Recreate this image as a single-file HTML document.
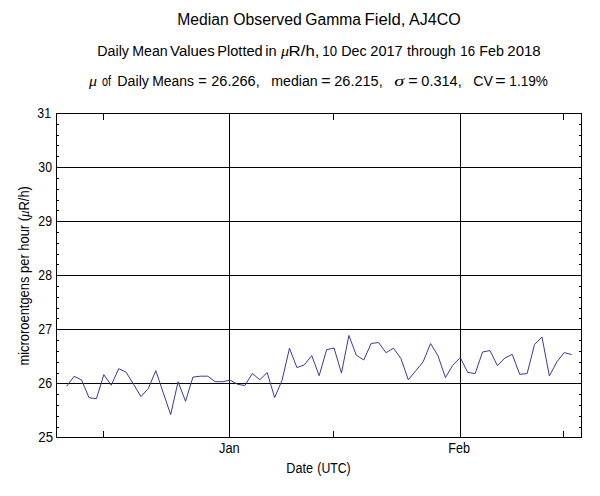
<!DOCTYPE html>
<html><head><meta charset="utf-8"><style>
html,body{margin:0;padding:0;background:#fff;}
svg{display:block;font-family:"Liberation Sans", sans-serif;}
</style></head><body>
<svg width="600" height="496" viewBox="0 0 600 496">
<rect x="0" y="0" width="600" height="496" fill="#fff"/>
<g fill="#000" shape-rendering="crispEdges"><rect x="56" y="113" width="526" height="1"/><rect x="56" y="437" width="526" height="1"/><rect x="56" y="113" width="1" height="325"/><rect x="581" y="113" width="1" height="325"/><rect x="56" y="167" width="526" height="1"/><rect x="56" y="221" width="526" height="1"/><rect x="56" y="275" width="526" height="1"/><rect x="56" y="329" width="526" height="1"/><rect x="56" y="383" width="526" height="1"/><rect x="229" y="113" width="1" height="325"/><rect x="460" y="113" width="1" height="325"/><rect x="103" y="114" width="1" height="6"/><rect x="103" y="431" width="1" height="6"/><rect x="333" y="114" width="1" height="6"/><rect x="333" y="431" width="1" height="6"/><rect x="563" y="114" width="1" height="6"/><rect x="563" y="431" width="1" height="6"/><rect x="57" y="124" width="2" height="1"/><rect x="579" y="124" width="2" height="1"/><rect x="57" y="135" width="2" height="1"/><rect x="579" y="135" width="2" height="1"/><rect x="57" y="145" width="2" height="1"/><rect x="579" y="145" width="2" height="1"/><rect x="57" y="156" width="2" height="1"/><rect x="579" y="156" width="2" height="1"/><rect x="57" y="178" width="2" height="1"/><rect x="579" y="178" width="2" height="1"/><rect x="57" y="189" width="2" height="1"/><rect x="579" y="189" width="2" height="1"/><rect x="57" y="200" width="2" height="1"/><rect x="579" y="200" width="2" height="1"/><rect x="57" y="210" width="2" height="1"/><rect x="579" y="210" width="2" height="1"/><rect x="57" y="232" width="2" height="1"/><rect x="579" y="232" width="2" height="1"/><rect x="57" y="243" width="2" height="1"/><rect x="579" y="243" width="2" height="1"/><rect x="57" y="254" width="2" height="1"/><rect x="579" y="254" width="2" height="1"/><rect x="57" y="264" width="2" height="1"/><rect x="579" y="264" width="2" height="1"/><rect x="57" y="286" width="2" height="1"/><rect x="579" y="286" width="2" height="1"/><rect x="57" y="297" width="2" height="1"/><rect x="579" y="297" width="2" height="1"/><rect x="57" y="308" width="2" height="1"/><rect x="579" y="308" width="2" height="1"/><rect x="57" y="318" width="2" height="1"/><rect x="579" y="318" width="2" height="1"/><rect x="57" y="340" width="2" height="1"/><rect x="579" y="340" width="2" height="1"/><rect x="57" y="351" width="2" height="1"/><rect x="579" y="351" width="2" height="1"/><rect x="57" y="362" width="2" height="1"/><rect x="579" y="362" width="2" height="1"/><rect x="57" y="373" width="2" height="1"/><rect x="579" y="373" width="2" height="1"/><rect x="57" y="394" width="2" height="1"/><rect x="579" y="394" width="2" height="1"/><rect x="57" y="405" width="2" height="1"/><rect x="579" y="405" width="2" height="1"/><rect x="57" y="416" width="2" height="1"/><rect x="579" y="416" width="2" height="1"/><rect x="57" y="427" width="2" height="1"/><rect x="579" y="427" width="2" height="1"/></g>
<polyline points="66.70,386.20 74.13,376.30 81.55,379.90 88.98,397.70 96.40,398.70 103.83,374.70 111.26,385.20 118.68,368.70 126.11,372.20 133.53,384.20 140.96,396.60 148.39,388.40 155.81,370.70 163.24,392.70 170.66,414.60 178.09,381.70 185.52,401.30 192.94,377.10 200.37,376.20 207.79,376.20 215.22,381.70 222.65,381.70 230.07,380.10 237.50,384.30 244.92,385.50 252.35,373.50 259.78,379.70 267.20,372.60 274.63,397.60 282.05,380.30 289.48,348.20 296.91,367.60 304.33,364.80 311.76,355.60 319.18,375.70 326.61,349.70 334.04,348.00 341.46,373.10 348.89,335.40 356.31,355.20 363.74,360.00 371.17,343.50 378.59,342.50 386.02,352.70 393.44,348.20 400.87,358.30 408.30,379.80 415.72,370.80 423.15,361.80 430.57,343.50 438.00,355.80 445.43,377.60 452.85,365.10 460.28,357.60 467.70,372.40 475.13,373.60 482.56,352.00 489.98,350.60 497.41,365.70 504.83,358.00 512.26,354.40 519.69,374.30 527.11,373.60 534.54,344.50 541.96,337.00 549.39,376.00 556.82,361.90 564.24,352.60 571.67,354.60" fill="none" stroke="#3a3a9c" stroke-width="1.0"/>
<defs><filter id="bin" x="0" y="0" width="100%" height="100%" filterUnits="userSpaceOnUse"><feComponentTransfer><feFuncA type="discrete" tableValues="0 1"/></feComponentTransfer></filter></defs>
<g fill="#000">
<text x="177.30" y="24.5" font-size="16" font-family='"Liberation Sans", sans-serif' textLength="51.40" lengthAdjust="spacingAndGlyphs">Median</text>
<text x="233.30" y="24.5" font-size="16" font-family='"Liberation Sans", sans-serif' textLength="68.40" lengthAdjust="spacingAndGlyphs">Observed</text>
<text x="305.30" y="24.5" font-size="16" font-family='"Liberation Sans", sans-serif' textLength="55.70" lengthAdjust="spacingAndGlyphs">Gamma</text>
<text x="364.60" y="24.5" font-size="16" font-family='"Liberation Sans", sans-serif' textLength="40.80" lengthAdjust="spacingAndGlyphs">Field,</text>
<text x="409.00" y="24.5" font-size="16" font-family='"Liberation Sans", sans-serif' textLength="51.70" lengthAdjust="spacingAndGlyphs">AJ4CO</text>
<text x="97.30" y="56" font-size="14" font-family='"Liberation Sans", sans-serif' textLength="31.70" lengthAdjust="spacingAndGlyphs">Daily</text>
<text x="132.30" y="56" font-size="14" font-family='"Liberation Sans", sans-serif' textLength="35.40" lengthAdjust="spacingAndGlyphs">Mean</text>
<text x="170.00" y="56" font-size="14" font-family='"Liberation Sans", sans-serif' textLength="44.70" lengthAdjust="spacingAndGlyphs">Values</text>
<text x="217.30" y="56" font-size="14" font-family='"Liberation Sans", sans-serif' textLength="45.40" lengthAdjust="spacingAndGlyphs">Plotted</text>
<text x="265.30" y="56" font-size="14" font-family='"Liberation Sans", sans-serif' textLength="11.40" lengthAdjust="spacingAndGlyphs">in</text>
<text x="281.00" y="56" font-size="14" font-family='"Liberation Serif", serif' font-style="italic" textLength="8.00" lengthAdjust="spacingAndGlyphs">μ</text>
<text x="288.60" y="56" font-size="14" font-family='"Liberation Sans", sans-serif' textLength="30.80" lengthAdjust="spacingAndGlyphs">R/h,</text>
<text x="322.30" y="56" font-size="14" font-family='"Liberation Sans", sans-serif' textLength="14.70" lengthAdjust="spacingAndGlyphs">10</text>
<text x="341.30" y="56" font-size="14" font-family='"Liberation Sans", sans-serif' textLength="25.40" lengthAdjust="spacingAndGlyphs">Dec</text>
<text x="370.30" y="56" font-size="14" font-family='"Liberation Sans", sans-serif' textLength="32.40" lengthAdjust="spacingAndGlyphs">2017</text>
<text x="407.00" y="56" font-size="14" font-family='"Liberation Sans", sans-serif' textLength="48.70" lengthAdjust="spacingAndGlyphs">through</text>
<text x="460.30" y="56" font-size="14" font-family='"Liberation Sans", sans-serif' textLength="14.70" lengthAdjust="spacingAndGlyphs">16</text>
<text x="479.30" y="56" font-size="14" font-family='"Liberation Sans", sans-serif' textLength="24.70" lengthAdjust="spacingAndGlyphs">Feb</text>
<text x="507.30" y="56" font-size="14" font-family='"Liberation Sans", sans-serif' textLength="33.40" lengthAdjust="spacingAndGlyphs">2018</text>
<text x="89.00" y="86" font-size="14" font-family='"Liberation Serif", serif' font-style="italic" textLength="8.00" lengthAdjust="spacingAndGlyphs">μ</text>
<text x="102.00" y="86" font-size="14" font-family='"Liberation Sans", sans-serif' textLength="9.00" lengthAdjust="spacingAndGlyphs">of</text>
<text x="117.30" y="86" font-size="14" font-family='"Liberation Sans", sans-serif' textLength="31.70" lengthAdjust="spacingAndGlyphs">Daily</text>
<text x="152.30" y="86" font-size="14" font-family='"Liberation Sans", sans-serif' textLength="41.70" lengthAdjust="spacingAndGlyphs">Means</text>
<text x="198.30" y="86" font-size="14" font-family='"Liberation Sans", sans-serif' textLength="8.40" lengthAdjust="spacingAndGlyphs">=</text>
<text x="211.30" y="86" font-size="14" font-family='"Liberation Sans", sans-serif' textLength="48.40" lengthAdjust="spacingAndGlyphs">26.266,</text>
<text x="271.30" y="86" font-size="14" font-family='"Liberation Sans", sans-serif' textLength="46.40" lengthAdjust="spacingAndGlyphs">median</text>
<text x="321.30" y="86" font-size="14" font-family='"Liberation Sans", sans-serif' textLength="9.40" lengthAdjust="spacingAndGlyphs">=</text>
<text x="334.30" y="86" font-size="14" font-family='"Liberation Sans", sans-serif' textLength="48.40" lengthAdjust="spacingAndGlyphs">26.215,</text>
<text x="394.30" y="86" font-size="14" font-family='"Liberation Serif", serif' font-style="italic" textLength="10.00" lengthAdjust="spacingAndGlyphs">σ</text>
<text x="408.30" y="86" font-size="14" font-family='"Liberation Sans", sans-serif' textLength="9.40" lengthAdjust="spacingAndGlyphs">=</text>
<text x="421.30" y="86" font-size="14" font-family='"Liberation Sans", sans-serif' textLength="40.40" lengthAdjust="spacingAndGlyphs">0.314,</text>
<text x="473.30" y="86" font-size="14" font-family='"Liberation Sans", sans-serif' textLength="19.70" lengthAdjust="spacingAndGlyphs">CV</text>
<text x="495.30" y="86" font-size="14" font-family='"Liberation Sans", sans-serif' textLength="10.40" lengthAdjust="spacingAndGlyphs">=</text>
<text x="509.30" y="86" font-size="14" font-family='"Liberation Sans", sans-serif' textLength="38.70" lengthAdjust="spacingAndGlyphs">1.19%</text>
<text x="219.00" y="453" font-size="14" font-family='"Liberation Sans", sans-serif' textLength="20.70" lengthAdjust="spacingAndGlyphs">Jan</text>
<text x="448.30" y="453" font-size="14" font-family='"Liberation Sans", sans-serif' textLength="21.70" lengthAdjust="spacingAndGlyphs">Feb</text>
<text x="286.30" y="473" font-size="14" font-family='"Liberation Sans", sans-serif' textLength="26.70" lengthAdjust="spacingAndGlyphs">Date</text>
<text x="317.30" y="473" font-size="14" font-family='"Liberation Sans", sans-serif' textLength="33.40" lengthAdjust="spacingAndGlyphs">(UTC)</text>
<text x="37.30" y="118" font-size="14" font-family='"Liberation Sans", sans-serif' textLength="13.70" lengthAdjust="spacingAndGlyphs">31</text>
<text x="38.30" y="172" font-size="14" font-family='"Liberation Sans", sans-serif' textLength="13.70" lengthAdjust="spacingAndGlyphs">30</text>
<text x="38.30" y="226" font-size="14" font-family='"Liberation Sans", sans-serif' textLength="13.70" lengthAdjust="spacingAndGlyphs">29</text>
<text x="38.30" y="280" font-size="14" font-family='"Liberation Sans", sans-serif' textLength="13.70" lengthAdjust="spacingAndGlyphs">28</text>
<text x="38.30" y="334" font-size="14" font-family='"Liberation Sans", sans-serif' textLength="13.70" lengthAdjust="spacingAndGlyphs">27</text>
<text x="38.30" y="388" font-size="14" font-family='"Liberation Sans", sans-serif' textLength="13.70" lengthAdjust="spacingAndGlyphs">26</text>
<text x="38.30" y="442" font-size="14" font-family='"Liberation Sans", sans-serif' textLength="14.70" lengthAdjust="spacingAndGlyphs">25</text>
<text transform="translate(29,364) rotate(-90)" font-size="14" x="-1.60" textLength="179.50" lengthAdjust="spacingAndGlyphs">microroentgens per hour (<tspan font-family='"Liberation Serif", serif' font-style="italic">μ</tspan>R/h)</text>
</g>
</svg>
</body></html>
